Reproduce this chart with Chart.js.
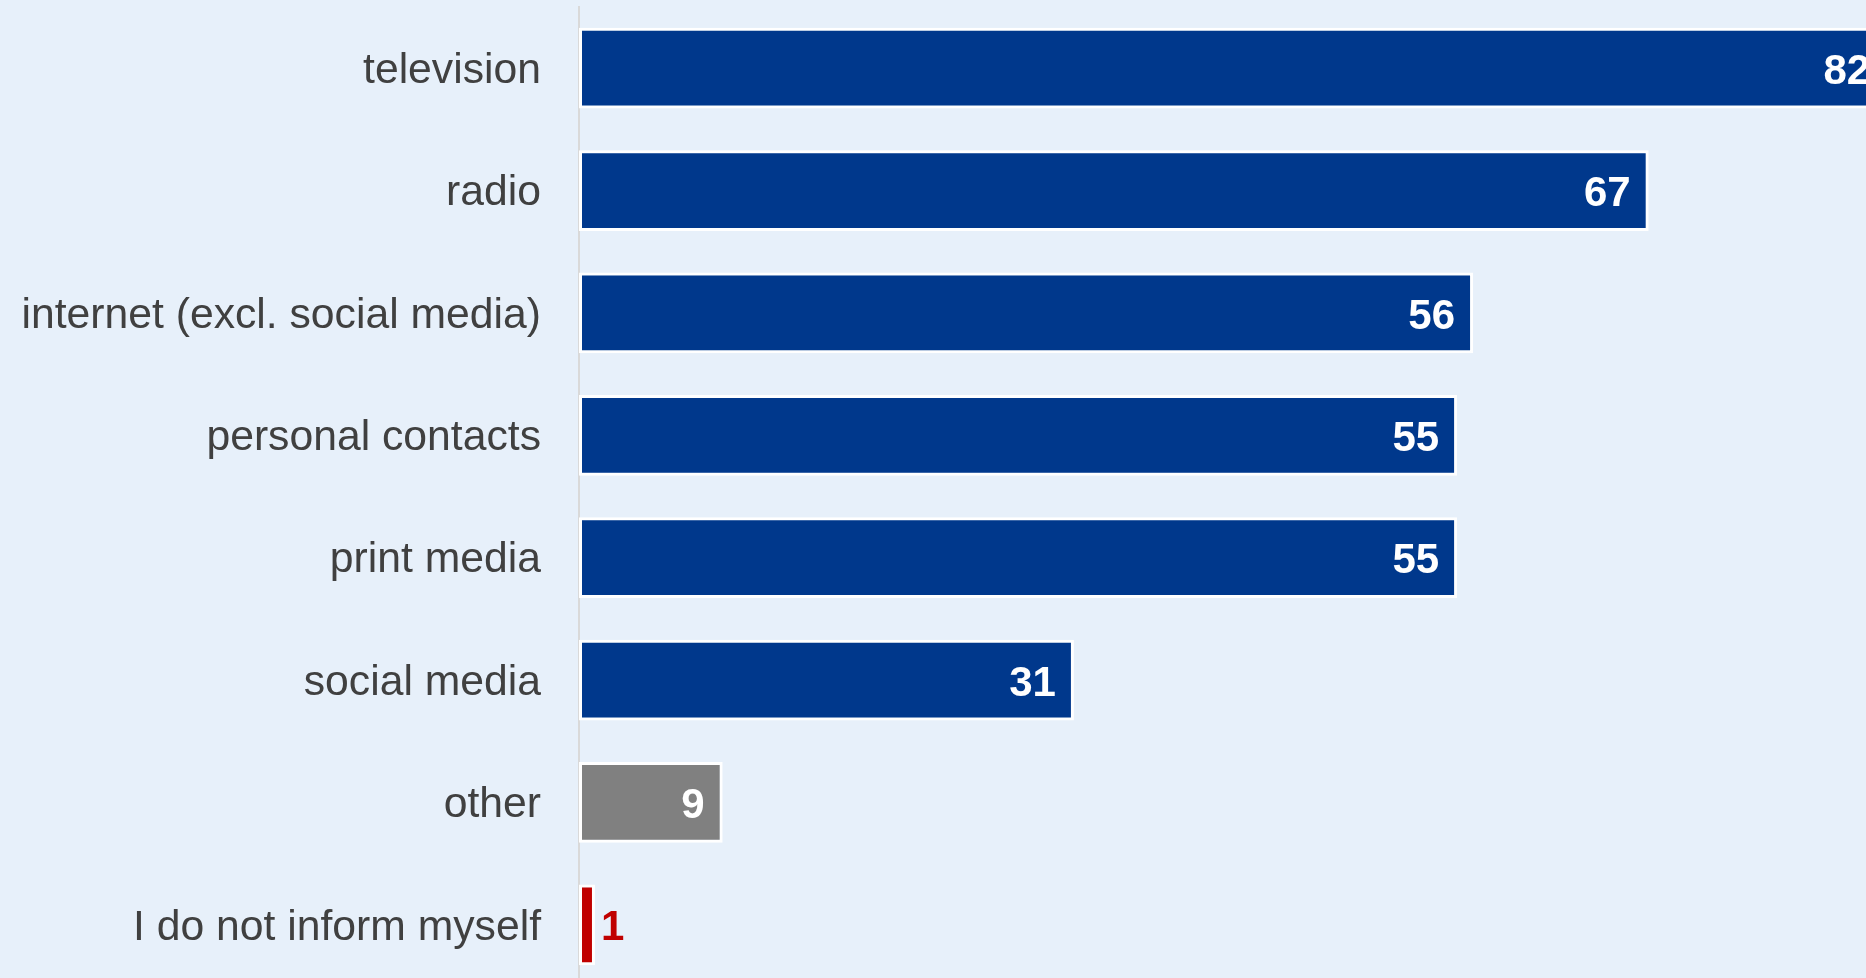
<!DOCTYPE html>
<html>
<head>
<meta charset="utf-8">
<script src="https://cdn.jsdelivr.net/npm/chart.js@4/dist/chart.umd.min.js"></script>
<style>
    html, body { margin: 0; padding: 0; background: #E7F0FA; overflow: hidden; }
    #wrap { width: 1960px; height: 990px; position: relative; }
</style>
</head>
<body>
<div id="wrap"><canvas id="bar-chart"></canvas></div>
<script>
// sources of information, share in percent
var categories = ["television", "radio", "internet (excl. social media)", "personal contacts",
    "print media", "social media", "other", "I do not inform myself"];
var shares = [82, 67, 56, 55, 55, 31, 9, 1];
var barColors = ["#00388C", "#00388C", "#00388C", "#00388C", "#00388C", "#00388C", "#808080", "#C00000"];

// value labels: white inside the bar, or coloured beside it when the bar is too short
var valueLabels = {
    id: 'valueLabels',
    afterDatasetsDraw: function (chart) {
        var ctx = chart.ctx;
        var meta = chart.getDatasetMeta(0);
        ctx.save();
        ctx.font = "bold 42px Arial, 'Liberation Sans', sans-serif";
        ctx.textBaseline = 'middle';
        meta.data.forEach(function (bar, i) {
            var v = shares[i];
            if (v >= 5) {
                ctx.fillStyle = '#FFFFFF';
                ctx.textAlign = 'right';
                ctx.fillText(v, bar.x - 18, bar.y + 4);
            } else {
                ctx.fillStyle = barColors[i];
                ctx.textAlign = 'left';
                ctx.fillText(v, bar.x + 6, bar.y + 4);
            }
        });
        ctx.restore();
    }
};

new Chart(document.getElementById("bar-chart"), {
    type: 'bar',
    data: {
        labels: categories,
        datasets: [
            {
                data: shares,
                backgroundColor: barColors,
                borderColor: '#FFFFFF',
                borderWidth: 3,
                borderSkipped: false,
                barPercentage: 0.66,
                categoryPercentage: 1.0
            }
        ]
    },
    options: {
        indexAxis: 'y',
        responsive: true,
        maintainAspectRatio: false,
        animation: false,
        layout: {
            padding: { top: 7, bottom: 4, left: 0, right: 0 }
        },
        plugins: {
            legend: { display: false },
            tooltip: { enabled: false }
        },
        scales: {
            x: {
                display: false,
                min: 0,
                max: 86.5
            },
            y: {
                afterFit: function (scale) {
                    scale.width = 579;
                    // no extra room above/below the first and last label
                    scale.paddingTop = 0;
                    scale.paddingBottom = 0;
                },
                grid: { display: false, drawTicks: false },
                border: { display: true, color: '#D9D9D9', width: 2 },
                ticks: {
                    padding: 38,
                    labelOffset: 3,
                    color: '#404040',
                    font: { family: "Arial, 'Liberation Sans', sans-serif", size: 42.7 }
                }
            }
        }
    },
    plugins: [valueLabels]
});
</script>
</body>
</html>
